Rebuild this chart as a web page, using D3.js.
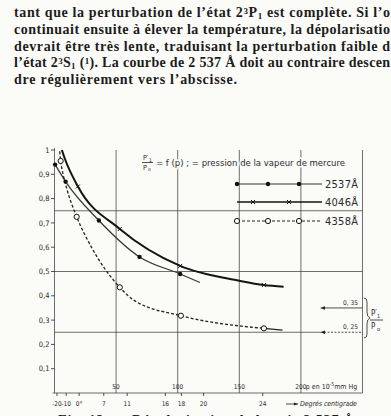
<!DOCTYPE html>
<html>
<head>
<meta charset="utf-8">
<title>P'1/P0 = f(p)</title>
<script src="https://d3js.org/d3.v7.min.js"></script>
<style>
  body { margin:0; background:#fbfbf8; }
  svg { display:block; background:#fbfbf8; }
  .txt { font-family:"Liberation Serif","DejaVu Serif",serif; font-weight:bold; font-size:14px; fill:#1c1c1c; }
  .lab { font-family:"DejaVu Sans Condensed","DejaVu Sans",sans-serif; fill:#2a2a2a; }
  .grid { stroke:#4a4a4a; stroke-width:0.8; fill:none; }
</style>
</head>
<body>
<svg id="fig" width="391" height="416"></svg>
<script>
"use strict";

// running text of the page, as far as the scan shows it (^x = superscript, _x = subscript)
const textLines = [
  "tant que la perturbation de l’état 2^3P_1 est complète. Si l’o",
  "continuait ensuite à élever la température, la dépolarisatio",
  "devrait être très lente, traduisant la perturbation faible d",
  "l’état 2^3S_1 (^1). La courbe de 2 537 Å doit au contraire descen",
  "dre régulièrement vers l’abscisse."
];
const textWidths = [376, 376, 376, 376, 223];

// axis ticks
const yTicks = [0.1, 0.2, 0.3, 0.4, 0.5, 0.6, 0.7, 0.8, 0.9, 1];
const pTicks = [50, 100, 150, 200];
const hGrid = [0.25, 0.5, 0.75];
const tempLabels = ["-20", "-10", "0°", "7", "11", "16", "18", "20", "24"];
const tempP = [2, 9.5, 20, 40, 59, 90, 103, 121, 169];

// 2537 A : filled dots, thin line
const marks2537 = [[0.5, 0.94], [9, 0.87], [36, 0.71], [69, 0.56], [102, 0.49]];
const curve2537 = [[0.5, 0.94], [9, 0.87], [36, 0.71], [69, 0.56], [102, 0.49], [118, 0.455]];
// 4046 A : crosses, thick line
const marks4046 = [[19, 0.85], [53, 0.675], [102, 0.523], [170, 0.444]];
const curve4046 = [[6, 1.0], [8.5, 0.963], [19, 0.85], [53, 0.675], [102, 0.523], [150, 0.462], [170, 0.444], [186, 0.437]];
// 4358 A : open circles, dashed line
const marks4358 = [[5, 0.955], [18, 0.725], [53, 0.435], [102.6, 0.318], [170, 0.266]];
const curve4358 = [[4.2, 0.995], [5, 0.955], [7, 0.9], [10, 0.84], [18, 0.725], [30, 0.6], [53, 0.435], [64, 0.383], [102.6, 0.318], [170, 0.266]];
const tail4358 = [[170, 0.266], [185, 0.259]];

const legendNames = ["2537Å", "4046Å", "4358Å"];
const arrowVals = [0.35, 0.25];
const arrowLabels = ["0, 35", "0, 25"];

const svg = d3.select("#fig");
const ink = "#222";

// ---- text above the figure
textLines.forEach((line, i) => {
  const t = svg.append("text").attr("class", "txt")
    .attr("x", 14).attr("y", 17 + i * 16.8)
    .attr("textLength", textWidths[i]).attr("lengthAdjust", "spacing");
  line.split(/(\^.|_.)/).forEach(part => {
    if (!part) return;
    if (part[0] === "^") t.append("tspan").attr("font-size", 9).attr("baseline-shift", "35%").text(part[1]);
    else if (part[0] === "_") t.append("tspan").attr("font-size", 9).attr("baseline-shift", "-20%").text(part[1]);
    else t.append("tspan").text(part);
  });
});

// ---- scales
const x = d3.scaleLinear().domain([0, 250]).range([54.5, 362.5]);
const y = d3.scaleLinear().domain([0, 1]).range([393, 150]);

const g = svg.append("g");

// frame: left axis, bottom axis, right border
g.append("line").attr("class", "grid").attr("stroke-width", 1)
  .attr("x1", x(0)).attr("x2", x(0)).attr("y1", y(1) - 2).attr("y2", y(0));
g.append("line").attr("class", "grid").attr("stroke-width", 1)
  .attr("x1", x(0) - 2).attr("x2", x(250)).attr("y1", y(0)).attr("y2", y(0));
g.append("line").attr("class", "grid")
  .attr("x1", x(250)).attr("x2", x(250)).attr("y1", y(1)).attr("y2", y(0));

// grid
g.selectAll(".hg").data(hGrid).join("line").attr("class", "grid")
  .attr("x1", x(0)).attr("x2", d => d === 0.25 ? x(216) : x(250))
  .attr("y1", d => y(d)).attr("y2", d => y(d));
g.selectAll(".vg").data(pTicks).join("line").attr("class", "grid")
  .attr("x1", d => x(d)).attr("x2", d => x(d))
  .attr("y1", y(1)).attr("y2", y(0));

// y ticks and labels
g.selectAll(".yt").data(yTicks).join("line").attr("stroke", ink).attr("stroke-width", 0.8)
  .attr("x1", x(0) - 3.5).attr("x2", x(0)).attr("y1", d => y(d)).attr("y2", d => y(d));
g.selectAll(".yl").data(yTicks).join("text").attr("class", "lab")
  .attr("font-size", 7.5).attr("text-anchor", "end")
  .attr("x", x(0) - 5).attr("y", d => y(d)).attr("dy", "0.35em")
  .text(d => d === 1 ? "1" : d3.format(".1f")(d).replace(".", ","));

// p labels inside the plot
g.selectAll(".pl").data(pTicks).join("text").attr("class", "lab")
  .attr("font-size", 6.5).attr("text-anchor", "middle")
  .attr("x", d => x(d)).attr("y", y(0) - 4).text(d => d);
const pUnit = g.append("text").attr("class", "lab").attr("font-size", 7)
  .attr("x", x(204)).attr("y", y(0) - 4);
pUnit.append("tspan").text("p en 10");
pUnit.append("tspan").attr("font-size", 5).attr("baseline-shift", "super").text("-5");
pUnit.append("tspan").text("mm Hg");

// temperature scale below the axis
g.selectAll(".tt").data(tempP).join("line").attr("stroke", ink).attr("stroke-width", 0.8)
  .attr("x1", d => x(d)).attr("x2", d => x(d)).attr("y1", y(0)).attr("y2", y(0) + 3);
g.selectAll(".tl").data(tempP).join("text").attr("class", "lab")
  .attr("font-size", 6.5).attr("text-anchor", "middle")
  .attr("x", d => x(d)).attr("y", y(0) + 13).text((d, i) => tempLabels[i]);
g.append("line").attr("stroke", ink).attr("stroke-width", 0.8)
  .attr("x1", 286).attr("x2", 298).attr("y1", y(0) + 11).attr("y2", y(0) + 11);
g.append("path").attr("fill", ink).attr("d", `M298,${y(0) + 11} l-4,-1.6 v3.2 z`);
g.append("text").attr("class", "lab").attr("font-size", 7).attr("font-style", "italic")
  .attr("x", 300).attr("y", y(0) + 13).attr("textLength", 57).text("Degrés centigrade");

// ---- curves
const line = d3.line().x(d => x(d[0])).y(d => y(d[1])).curve(d3.curveMonotoneX);
g.append("path").attr("d", line(curve2537)).attr("fill", "none")
  .attr("stroke", "#333").attr("stroke-width", 1.2);
g.append("path").attr("d", line(curve4046)).attr("fill", "none")
  .attr("stroke", "#151515").attr("stroke-width", 2);
g.append("path").attr("d", line(curve4358)).attr("fill", "none")
  .attr("stroke", "#222").attr("stroke-width", 1.3).attr("stroke-dasharray", "3,2");
g.append("path").attr("d", line(tail4358)).attr("fill", "none")
  .attr("stroke", "#222").attr("stroke-width", 1.3);

// markers
function dot(sel, cx, cy) {
  sel.append("circle").attr("cx", cx).attr("cy", cy).attr("r", 2.2).attr("fill", "#111");
}
function cross(sel, cx, cy) {
  sel.append("path").attr("d", `M${cx - 2},${cy - 2}L${cx + 2},${cy + 2}M${cx - 2},${cy + 2}L${cx + 2},${cy - 2}`)
    .attr("stroke", "#111").attr("stroke-width", 1);
}
function ring(sel, cx, cy) {
  sel.append("circle").attr("cx", cx).attr("cy", cy).attr("r", 2.6)
    .attr("fill", "#fbfbf8").attr("stroke", "#111").attr("stroke-width", 1);
}
marks2537.forEach(d => dot(g, x(d[0]), y(d[1])));
marks4046.forEach(d => cross(g, x(d[0]), y(d[1])));
marks4358.forEach(d => ring(g, x(d[0]), y(d[1])));

// ---- legend
const legY = [184, 202, 221];
const legX0 = 237, legX1 = 322;
const lg = svg.append("g");
lg.append("line").attr("x1", legX0).attr("x2", legX1).attr("y1", legY[0]).attr("y2", legY[0])
  .attr("stroke", "#333").attr("stroke-width", 1.1);
lg.append("line").attr("x1", legX0).attr("x2", legX1).attr("y1", legY[1]).attr("y2", legY[1])
  .attr("stroke", "#151515").attr("stroke-width", 1.5);
lg.append("line").attr("x1", legX0).attr("x2", legX1).attr("y1", legY[2]).attr("y2", legY[2])
  .attr("stroke", "#222").attr("stroke-width", 1.2).attr("stroke-dasharray", "3,2");
[237, 268, 299].forEach(cx => dot(lg, cx, legY[0]));
[253, 289].forEach(cx => cross(lg, cx, legY[1]));
[237, 268, 299].forEach(cx => ring(lg, cx, legY[2]));
lg.selectAll(".ln").data(legendNames).join("text").attr("class", "lab")
  .attr("font-size", 11).attr("x", 325).attr("y", (d, i) => legY[i] + 4)
  .attr("textLength", 33).attr("lengthAdjust", "spacing").text(d => d);

// ---- title formula
const tg = svg.append("g").attr("class", "lab");
tg.append("text").attr("font-size", 7).attr("x", 143).attr("y", 160).text("P′");
tg.append("text").attr("font-size", 5).attr("x", 149).attr("y", 161.5).text("1");
tg.append("line").attr("x1", 142).attr("x2", 153).attr("y1", 162.5).attr("y2", 162.5)
  .attr("stroke", ink).attr("stroke-width", 0.8);
tg.append("text").attr("font-size", 7).attr("x", 143).attr("y", 169.5).text("P");
tg.append("text").attr("font-size", 5).attr("x", 148).attr("y", 171).text("o");
tg.append("text").attr("font-size", 9.5).attr("x", 156).attr("y", 166)
  .attr("textLength", 189).attr("lengthAdjust", "spacingAndGlyphs")
  .attr("stroke", "#fbfbf8").attr("stroke-width", 3).attr("paint-order", "stroke")
  .text("= f (p) ; = pression de la vapeur de mercure");

// ---- arrows 0,35 / 0,25 on the right
arrowVals.forEach((v, i) => {
  const yy = y(v);
  svg.append("line").attr("x1", 324).attr("x2", x(250)).attr("y1", yy).attr("y2", yy)
    .attr("stroke", ink).attr("stroke-width", 0.8)
    .attr("stroke-dasharray", i === 1 ? "2,1.5" : null);
  svg.append("path").attr("fill", ink).attr("d", `M320,${yy} l5,-1.8 v3.6 z`);
  svg.append("text").attr("class", "lab").attr("font-size", 6.5)
    .attr("x", 343).attr("y", yy - 3).text(arrowLabels[i]);
});
// brace and P'1/P0
svg.append("path").attr("fill", "none").attr("stroke", ink).attr("stroke-width", 0.8)
  .attr("d", "M364,298 q3,0 3,4 v10 q0,5 3,6 q-3,1 -3,6 v10 q0,4 -3,4");
svg.append("text").attr("class", "lab").attr("font-size", 8).attr("x", 371).attr("y", 316).text("P′");
svg.append("text").attr("class", "lab").attr("font-size", 5.5).attr("x", 377).attr("y", 318).text("1");
svg.append("line").attr("x1", 370).attr("x2", 383).attr("y1", 320).attr("y2", 320)
  .attr("stroke", ink).attr("stroke-width", 0.8);
svg.append("text").attr("class", "lab").attr("font-size", 8).attr("x", 371).attr("y", 329).text("P");
svg.append("text").attr("class", "lab").attr("font-size", 5.5).attr("x", 377).attr("y", 331).text("o");

// caption, cut by the bottom edge of the scan
svg.append("text").attr("class", "txt").attr("x", 58).attr("y", 425)
  .attr("textLength", 300).attr("lengthAdjust", "spacing")
  .text("Fig. 12. — Dépolarisation de la raie 2 537 Å.");
</script>
</body>
</html>
